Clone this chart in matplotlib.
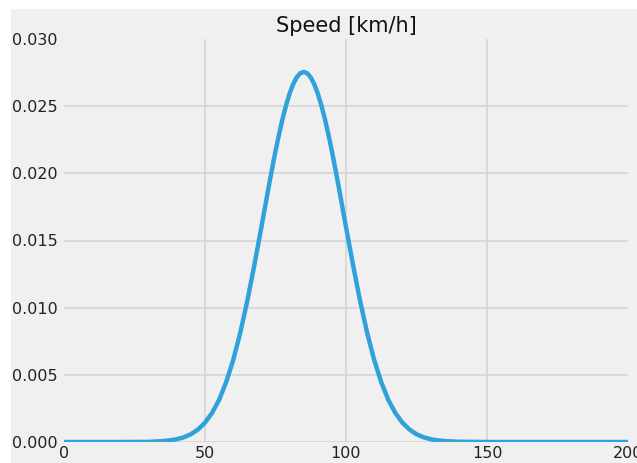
import matplotlib
matplotlib.use("Agg")
import matplotlib.pyplot as plt
from matplotlib.patches import Rectangle

# speed density
speed = [0, 10, 20, 30, 35, 37.5, 40, 42.5, 45, 47.5, 50, 52.5, 55, 57.5,
         60, 62.5, 65, 67.5, 70, 72.5, 73.75, 75, 76.25, 77.5, 78.75, 80,
         81.25, 82.5, 83.75, 85, 86.25, 87.5, 88.75, 90, 91.25, 92.5, 93.75,
         95, 96.25, 97.5, 100, 102.5, 105, 107.5, 110, 112.5, 115, 117.5,
         120, 122.5, 125, 127.5, 130, 132.5, 135, 140, 150, 170, 200]
density = [0, 0, 0, 0.00001, 0.00007, 0.00012, 0.00021, 0.00035, 0.00058,
           0.00093, 0.00144, 0.00216, 0.00314, 0.00445, 0.0061, 0.00813,
           0.0105, 0.01317, 0.0160, 0.0189, 0.0203, 0.02165, 0.0229, 0.02406,
           0.02507, 0.02594, 0.02663, 0.02714, 0.02745, 0.02755, 0.02745,
           0.02714, 0.02663, 0.02594, 0.02507, 0.02406, 0.0229, 0.02165,
           0.0203, 0.0189, 0.0160, 0.01317, 0.0105, 0.00813, 0.0061, 0.00445,
           0.00314, 0.00216, 0.00144, 0.00093, 0.00058, 0.00035, 0.00021,
           0.00012, 0.00007, 0.00002, 0, 0, 0]
xticks = [0, 50, 100, 150, 200]
yticks = [0.000, 0.005, 0.010, 0.015, 0.020, 0.025, 0.030]

bg = "#f0f0f0"
fig = plt.figure(figsize=(6.37, 4.63), dpi=100, facecolor="white")
bgrect = Rectangle((11 / 637, 0), 1, 1 - 9 / 463, transform=fig.transFigure,
                   facecolor=bg, edgecolor="none", zorder=-10)
fig.add_artist(bgrect)

ax = fig.add_axes([64 / 637, 1 - 442 / 463, 564 / 637, 403 / 463])
ax.set_facecolor(bg)
for s in ax.spines.values():
    s.set_visible(False)

ax.plot(speed, density, color="#30a2da", lw=3.2, solid_joinstyle="round",
        solid_capstyle="butt", zorder=3)

ax.set_xlim(0, 200)
ax.set_ylim(0, 0.03)
ax.set_xticks(xticks)
ax.set_yticks(yticks)
ax.set_yticklabels(["%.3f" % v for v in yticks])
ax.tick_params(length=0, labelsize=11.5, labelcolor="#222222")
ax.tick_params(axis="y", pad=4.5)
ax.tick_params(axis="x", pad=3)
ax.grid(True, color="#d3d3d3", lw=1.1)
ax.set_axisbelow(True)
ax.yaxis.get_gridlines()[-1].set_visible(False)
ax.xaxis.get_gridlines()[0].set_visible(False)
ax.xaxis.get_gridlines()[-1].set_visible(False)

ax.set_title("Speed [km/h]", fontsize=15, pad=5, color="#111111")

fig.savefig("out.png", dpi=100, facecolor=fig.get_facecolor())
